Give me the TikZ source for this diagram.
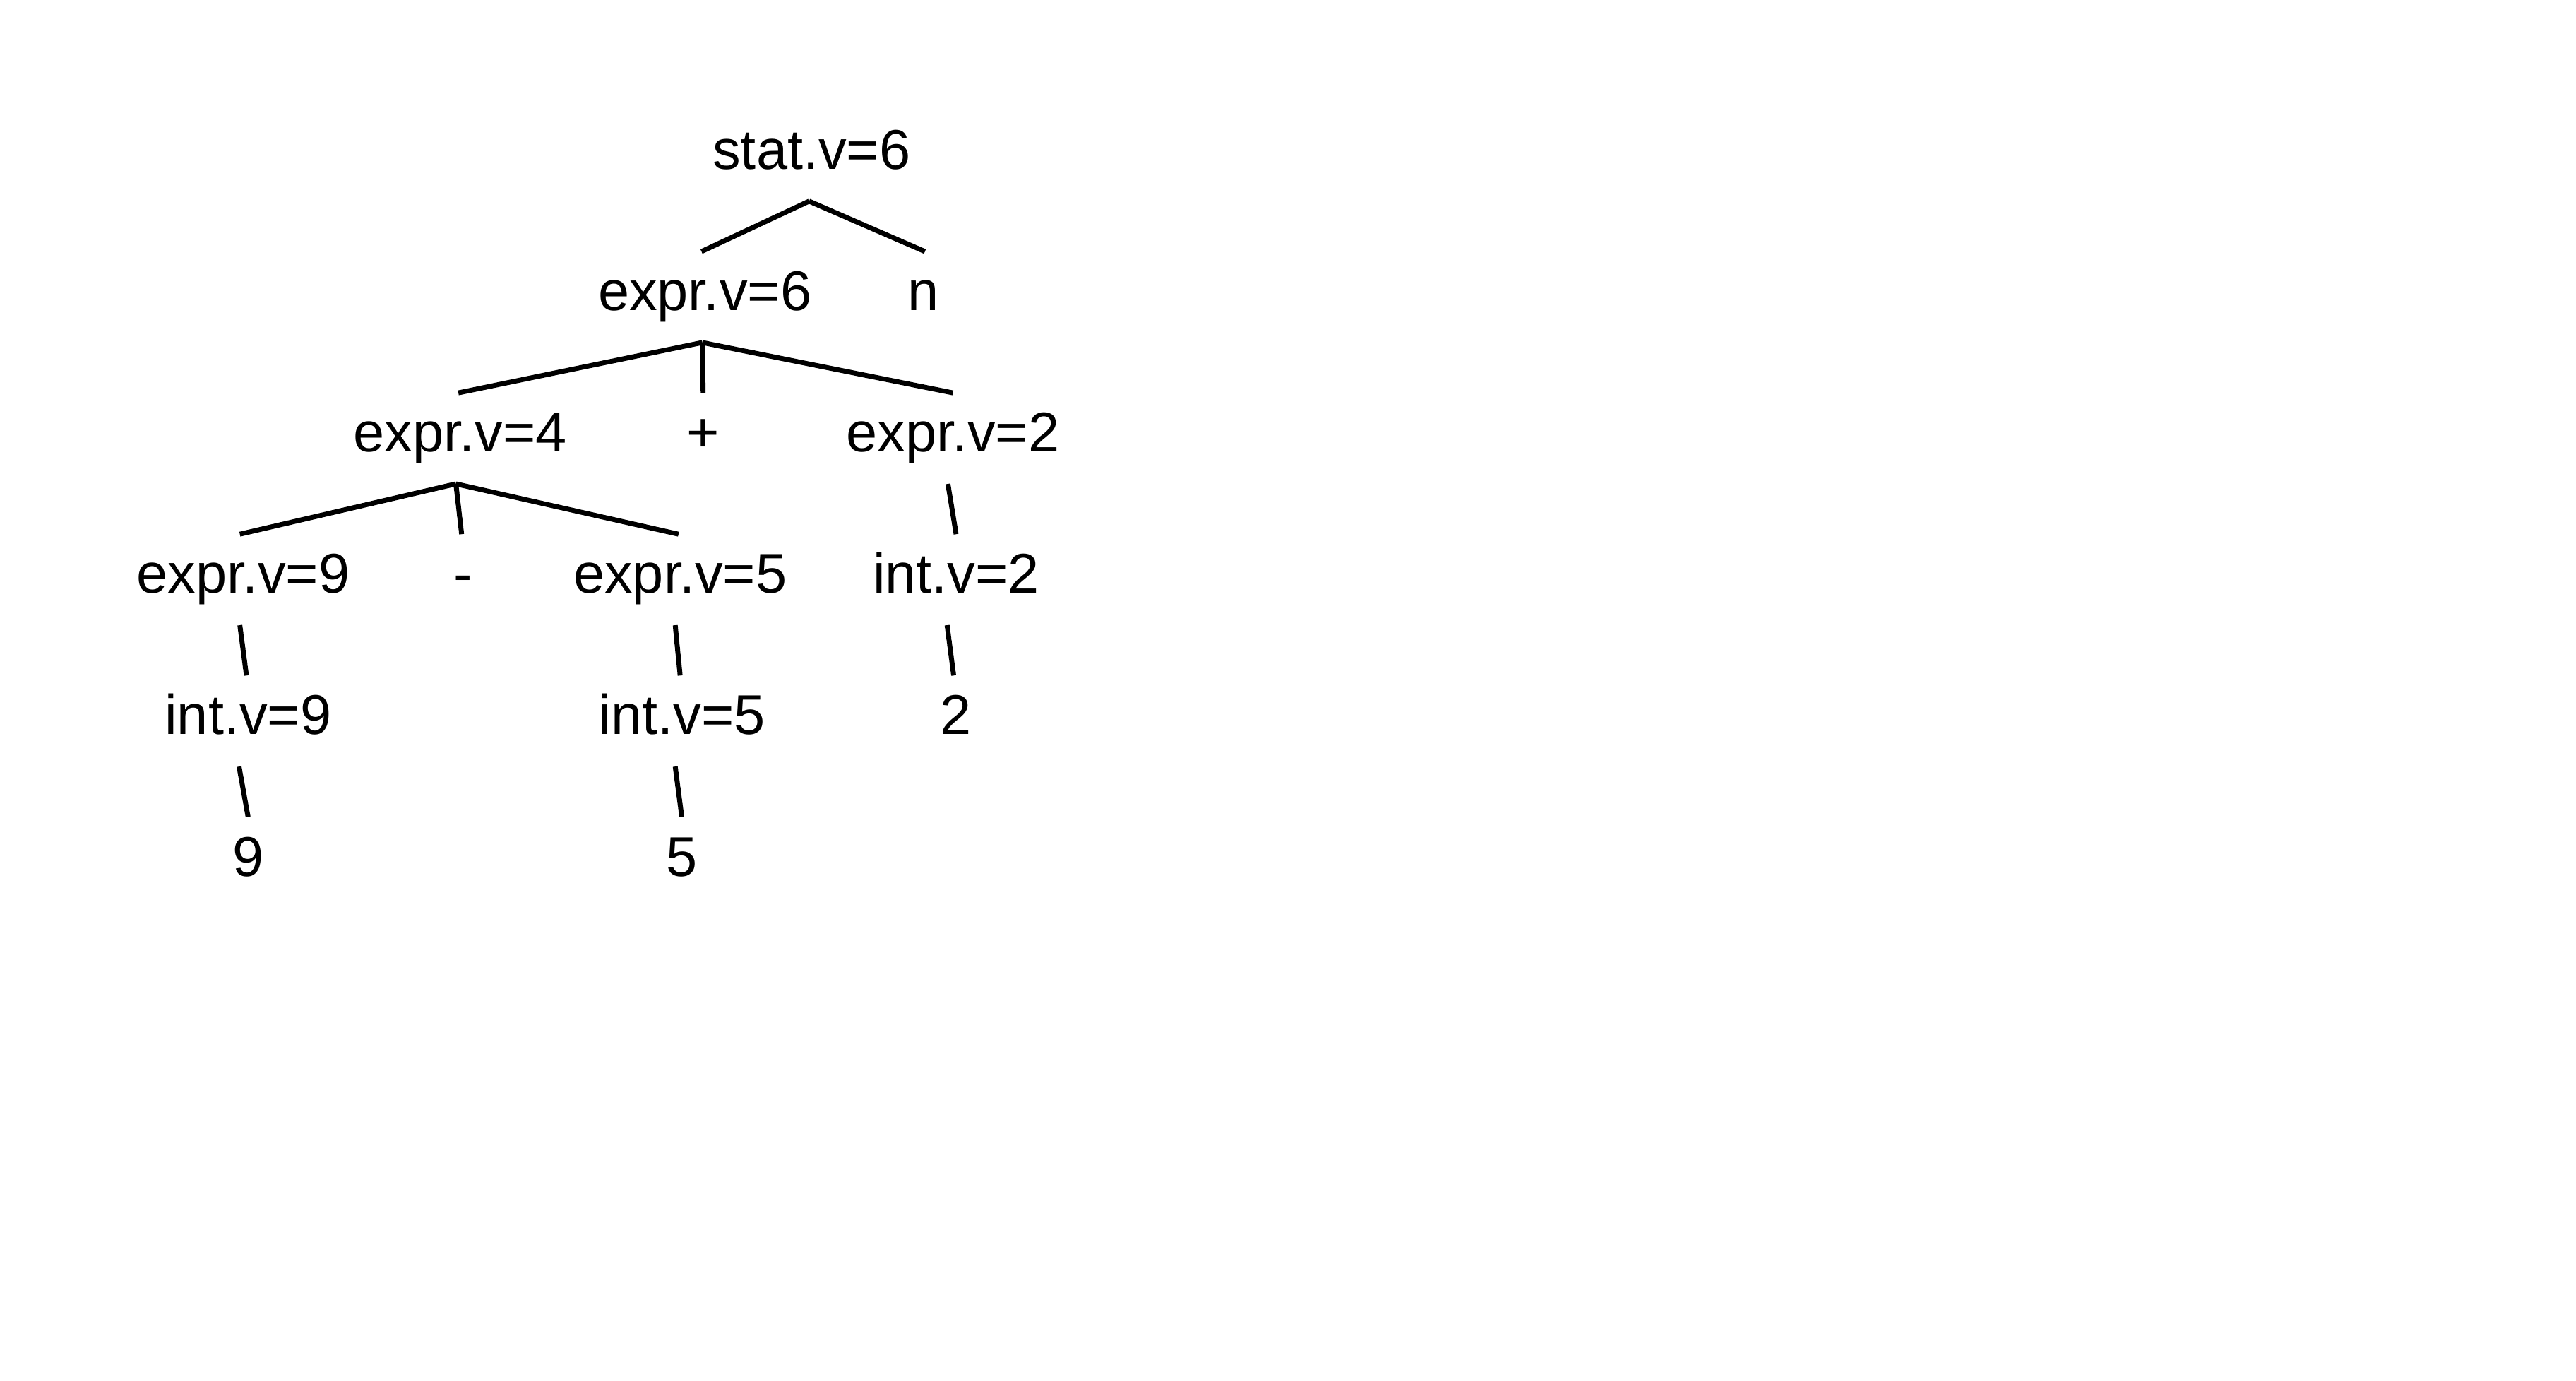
\documentclass[tikz,border=0pt]{standalone}
\usepackage{fontspec}
\setmainfont{Liberation Sans}
\usepackage{tikz}

\begin{document}
\begin{tikzpicture}[
    x=0.1mm, y=-0.1mm,
    sym/.style={anchor=base, inner xsep=0pt, inner ysep=1.1mm, text height=0.69em, text depth=0.22em, font=\fontsize{9.7}{11.6}\selectfont},
    branch/.style={draw, line width=0.85pt, color=black}
]
\useasboundingbox (0,0) rectangle (1568,840);

% Nodes
\node [sym] (stat) at (494,103) {stat.v=6};
\node [sym] (expr6) at (429,189) {expr.v=6};
\node [sym] (n) at (562,189) {n};
\node [sym] (expr4) at (280,275) {expr.v=4};
\node [sym] (plus) at (428,275) {+};
\node [sym] (expr2) at (580,275) {expr.v=2};
\node [sym] (expr9) at (148,361) {expr.v=9};
\node [sym] (minus) at (282,361) {-};
\node [sym] (expr5) at (414,361) {expr.v=5};
\node [sym] (int2) at (582,361) {int.v=2};
\node [sym] (int9) at (151,447) {int.v=9};
\node [sym] (int5) at (415,447) {int.v=5};
\node [sym] (two) at (582,447) {2};
\node [sym] (nine) at (151,533) {9};
\node [sym] (five) at (415,533) {5};

% Connectors
\path [branch] ([xshift=-0.15mm]stat.south) -- ([xshift=-0.2mm]expr6.north);
\path [branch] ([xshift=-0.15mm]stat.south) -- ([xshift=0.1mm]n.north);
\path [branch] ([xshift=-0.15mm]expr6.south) -- ([xshift=-0.1mm]expr4.north);
\path [branch] ([xshift=-0.15mm]expr6.south) -- (plus.north);
\path [branch] ([xshift=-0.15mm]expr6.south) -- (expr2.north);
\path [branch] ([xshift=-0.25mm]expr4.south) -- ([xshift=-0.2mm]expr9.north);
\path [branch] ([xshift=-0.25mm]expr4.south) -- ([xshift=-0.1mm]minus.north);
\path [branch] ([xshift=-0.25mm]expr4.south) -- ([xshift=-0.1mm]expr5.north);
% single branches lean a little
\path [branch] ([xshift=-0.3mm]expr2.south) -- (int2.north);
\path [branch] ([xshift=-0.2mm]expr9.south) -- ([xshift=-0.1mm]int9.north);
\path [branch] ([xshift=-0.3mm]expr5.south) -- ([xshift=-0.1mm]int5.north);
\path [branch] ([xshift=-0.55mm]int2.south) -- ([xshift=-0.15mm]two.north);
\path [branch] ([xshift=-0.55mm]int9.south) -- (nine.north);
\path [branch] ([xshift=-0.4mm]int5.south) -- (five.north);

\end{tikzpicture}
\end{document}
